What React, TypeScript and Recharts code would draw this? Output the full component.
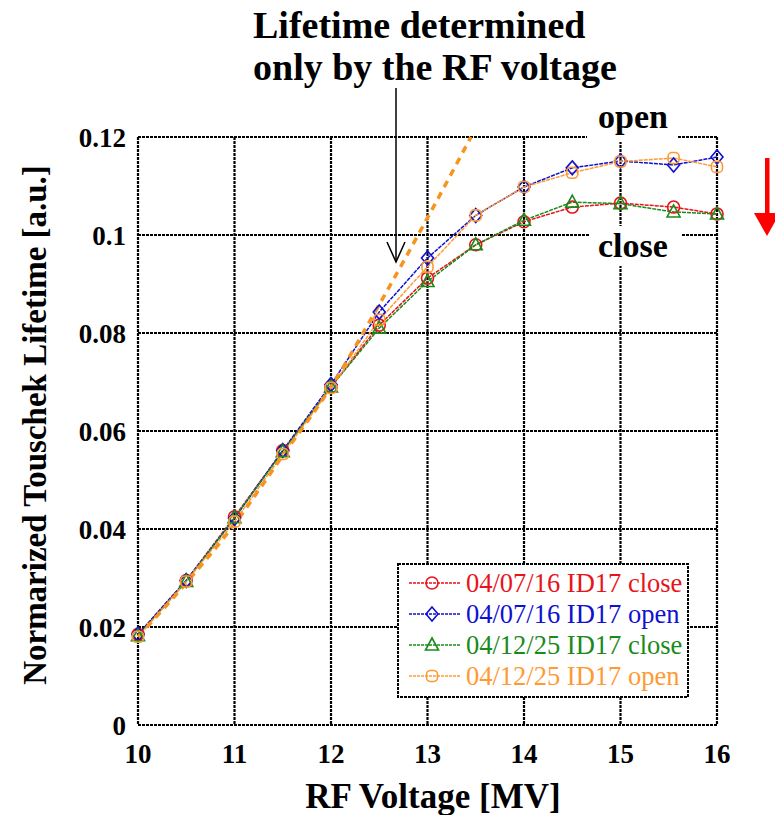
import React from "react"
import {
  CartesianGrid,
  Line,
  LineChart,
  XAxis,
  YAxis,
} from "recharts"

if (typeof document !== "undefined") document.body.style.margin = "0"

const FONT = '"Liberation Serif", "Times New Roman", serif'

// measured RF voltage points [MV]
const voltage = [10, 10.5, 11, 11.5, 12, 12.5, 13, 13.5, 14, 14.5, 15, 15.55, 16]

const close0716 = [0.0185, 0.0295, 0.0425, 0.056, 0.069, 0.0816, 0.0912, 0.098, 0.1027, 0.1057, 0.1065, 0.1057, 0.1043]
const open0716 = [0.0185, 0.0295, 0.0422, 0.056, 0.0695, 0.0843, 0.0953, 0.104, 0.1098, 0.1137, 0.1151, 0.1143, 0.1159]
const close1225 = [0.0182, 0.0293, 0.0423, 0.0558, 0.069, 0.081, 0.0905, 0.098, 0.103, 0.1067, 0.1064, 0.1047, 0.1043]
const open1225 = [0.018, 0.0293, 0.0415, 0.0553, 0.0688, 0.0827, 0.0935, 0.104, 0.1098, 0.1127, 0.115, 0.1157, 0.1139]

// lifetime determined only by the RF voltage
const rfVoltage = [10, 10.5, 11, 11.5, 12, 12.5, 13, 13.45]
const rfOnly = [0.018, 0.029, 0.041, 0.055, 0.069, 0.0858, 0.1035, 0.12]

const xTicks = [10, 11, 12, 13, 14, 15, 16]
const yTicks = [0, 0.02, 0.04, 0.06, 0.08, 0.1, 0.12]

type Shape = "circle" | "diamond" | "triangle" | "square"

const series: { name: string; values: number[]; color: string; shape: Shape }[] = [
  { name: "04/07/16 ID17 close", values: close0716, color: "#e8141b", shape: "circle" },
  { name: "04/07/16 ID17 open", values: open0716, color: "#1010d0", shape: "diamond" },
  { name: "04/12/25 ID17 close", values: close1225, color: "#1a8a1a", shape: "triangle" },
  { name: "04/12/25 ID17 open", values: open1225, color: "#ff9a33", shape: "square" },
]

const toPoints = (xs: number[], ys: number[]) => xs.map((x, i) => ({ x, y: ys[i] }))

function Marker({ cx, cy, shape, color }: { cx: number; cy: number; shape: Shape; color: string }) {
  const common = { fill: "none", stroke: color, strokeWidth: 1.6 }
  if (shape === "circle") return <circle cx={cx} cy={cy} r={6} {...common} />
  if (shape === "diamond")
    return <polygon points={`${cx},${cy - 7} ${cx + 6},${cy} ${cx},${cy + 7} ${cx - 6},${cy}`} {...common} />
  if (shape === "triangle")
    return <polygon points={`${cx},${cy - 7} ${cx + 6.5},${cy + 5} ${cx - 6.5},${cy + 5}`} {...common} />
  return <rect x={cx - 5.5} y={cy - 5.5} width={11} height={11} rx={4} {...common} />
}

function LegendBox() {
  return (
    <svg width={292} height={135} style={{ display: "block" }}>
      <rect x={1} y={1} width={290} height={133} fill="#fff" stroke="#000" strokeWidth={2} strokeDasharray="3 1" />
      {series.map((s, i) => {
        const y = 20 + i * 31
        return (
          <g key={s.name}>
            <line x1={12} x2={64} y1={y} y2={y} stroke={s.color} strokeWidth={1.5} strokeDasharray="3 1" />
            <Marker cx={35} cy={y} shape={s.shape} color={s.color} />
            <text x={69} y={y + 9} fill={s.color} fontFamily={FONT} fontSize={26.5}>
              {s.name}
            </text>
          </g>
        )
      })}
    </svg>
  )
}

export default function App() {
  const boldTick = { fill: "#000", fontSize: 27, fontWeight: 700, fontFamily: FONT }
  return (
    <div style={{ position: "relative", width: 775, height: 815, background: "#fff" }}>
      <LineChart width={775} height={815} margin={{ top: 137, right: 58, left: 68, bottom: 40 }}>
        <CartesianGrid stroke="#000" strokeWidth={2.2} strokeDasharray="3 1" />
        <XAxis
          type="number"
          dataKey="x"
          domain={[10, 16]}
          ticks={xTicks}
          axisLine={false}
          tickLine={false}
          tickSize={6}
          tickMargin={13}
          height={50}
          tick={boldTick}
          allowDuplicatedCategory={false}
        />
        <YAxis
          type="number"
          dataKey="y"
          domain={[0, 0.12]}
          ticks={yTicks}
          axisLine={false}
          tickLine={false}
          tickSize={6}
          tickMargin={6}
          width={70}
          tick={boldTick}
          tickFormatter={(v: number) => String(v)}
        />
        {series.map((s) => (
          <Line
            key={s.name}
            data={toPoints(voltage, s.values)}
            dataKey="y"
            name={s.name}
            stroke={s.color}
            strokeWidth={1.5}
            strokeDasharray="4 1"
            isAnimationActive={false}
            dot={(p: any) => (
              <Marker key={`${s.name}-${p.index}`} cx={p.cx} cy={p.cy} shape={s.shape} color={s.color} />
            )}
            activeDot={false}
          />
        ))}
        <Line
          data={toPoints(rfVoltage, rfOnly)}
          dataKey="y"
          name="RF only"
          type="monotone"
          stroke="#f7941d"
          strokeWidth={3.5}
          strokeDasharray="7 6"
          dot={false}
          activeDot={false}
          isAnimationActive={false}
        />
      </LineChart>

      <div style={{ position: "absolute", left: 397, top: 563 }}>
        <LegendBox />
      </div>

      <svg
        width={775}
        height={815}
        style={{ position: "absolute", left: 0, top: 0, pointerEvents: "none" }}
        fontFamily={FONT}
      >
        <text x={253} y={38} fontSize={38} fontWeight={700}>
          Lifetime determined
        </text>
        <text x={253} y={80} fontSize={38} fontWeight={700}>
          only by the RF voltage
        </text>
        <line x1={396} y1={88} x2={396} y2={262} stroke="#000" strokeWidth={1.5} />
        <polyline points="387,242 396,262 405,242" fill="none" stroke="#000" strokeWidth={1.5} />

        <rect x={587} y={128} width={91} height={14} fill="#fff" />
        <text x={598} y={128} fontSize={34} fontWeight={700}>
          open
        </text>
        <rect x={590} y={226} width={92} height={40} fill="#fff" />
        <text x={598} y={257} fontSize={34} fontWeight={700}>
          close
        </text>

        <rect x={765} y={158} width={4.5} height={58} fill="#ff0000" />
        <polygon points="754,213 767,236 780,213" fill="#ff0000" />

        <text
          transform="translate(46,425) rotate(-90)"
          textAnchor="middle"
          fontSize={33}
          fontWeight={700}
        >
          Normarized Touschek Lifetime [a.u.]
        </text>
        <text x={433} y={808} textAnchor="middle" fontSize={35} fontWeight={700}>
          RF Voltage [MV]
        </text>
      </svg>
    </div>
  )
}
